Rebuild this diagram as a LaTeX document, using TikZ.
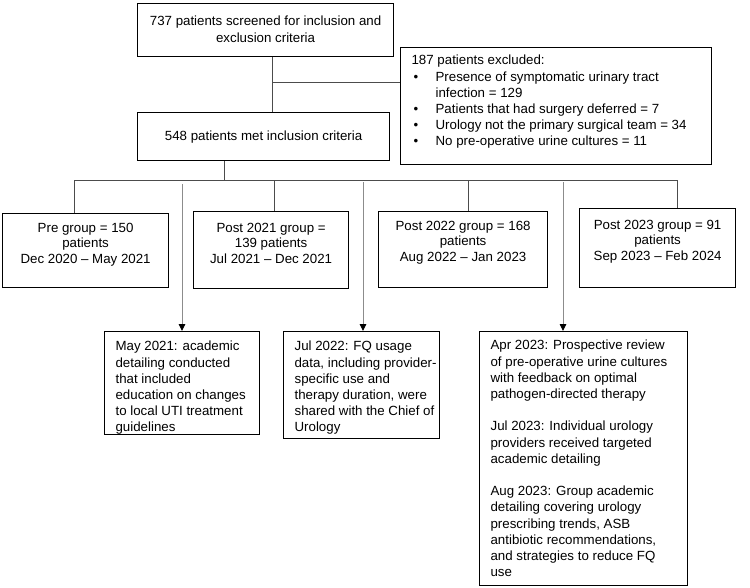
\documentclass[tikz,border=0pt]{standalone}
\usepackage{fontspec}
\setmainfont{Liberation Sans}
\usetikzlibrary{arrows.meta}
% top-aligned box contents: width, height, top padding, text
\newcommand\lboxtxt[4]{\parbox[t][#2][t]{#1}{\raggedright\leftskip=11pt\vspace*{#3}\strut#4}}
\newcommand\cboxtxt[4]{\parbox[t][#2][t]{#1}{\centering\vspace*{#3}\strut#4}}
\newcommand\exbullet{\makebox[24pt][l]{\hspace{2pt}\textbullet}}
\begin{document}
\begin{tikzpicture}[x=1pt,y=-1pt,
  box/.style={draw=black, line width=1.2pt, anchor=north west, inner sep=0pt,
    font=\fontsize{13.3}{16.2}\selectfont},
  gbox/.style={box, font=\fontsize{13.3}{15.6}\selectfont},
  link/.style={draw=black!70, line width=0.9pt},
  note/.style={draw=black!45, line width=0.9pt,
    -{Triangle[length=7pt,width=6.5pt,color=black]}}]
\useasboundingbox (0,0) rectangle (750,587);

% screening and inclusion
\node[box] (top) at (137,3) {\cboxtxt{256pt}{53pt}{11pt}{737 patients screened for inclusion and\\ exclusion criteria}};
\node[box] (excl) at (400,47) {\lboxtxt{311pt}{117pt}{6pt}{187 patients excluded:\\
\exbullet Presence of symptomatic urinary tract\\
\hspace*{24pt}infection = 129\\
\exbullet Patients that had surgery deferred = 7\\
\exbullet Urology not the primary surgical team = 34\\
\exbullet No pre-operative urine cultures = 11}};
\node[box] (inc) at (137,112) {\cboxtxt{252pt}{48pt}{17pt}{548 patients met inclusion criteria}};

% study groups
\node[gbox] (pre) at (2,213) {\cboxtxt{166pt}{74pt}{7.5pt}{Pre group = 150\\ patients\\ Dec 2020 \textendash{} May 2021}};
\node[gbox] (post21) at (193,211) {\cboxtxt{155pt}{77pt}{9.5pt}{Post 2021 group =\\ 139 patients\\ Jul 2021 \textendash{} Dec 2021}};
\node[gbox] (post22) at (378,211) {\cboxtxt{169pt}{76pt}{7.5pt}{Post 2022 group = 168\\ patients\\ Aug 2022 \textendash{} Jan 2023}};
\node[gbox] (post23) at (579,208) {\cboxtxt{156pt}{79pt}{9.5pt}{Post 2023 group = 91\\ patients\\ Sep 2023 \textendash{} Feb 2024}};

% interventions
\node[box] (ev1) at (104,331) {\lboxtxt{155pt}{103pt}{8pt}{May 2021: academic\\ detailing conducted\\ that included\\ education on changes\\ to local UTI treatment\\ guidelines}};
\node[box] (ev2) at (283,331) {\lboxtxt{156pt}{107pt}{8pt}{Jul 2022: FQ usage\\ data, including provider-\\ specific use and\\ therapy duration, were\\ shared with the Chief of\\ Urology}};
\node[box] (ev3) at (479,331) {\lboxtxt{208pt}{254pt}{7pt}{Apr 2023: Prospective review\\ of pre-operative urine cultures\\ with feedback on optimal\\ pathogen-directed therapy\\[16.2pt]
Jul 2023: Individual urology\\ providers received targeted\\ academic detailing\\[16.2pt]
Aug 2023: Group academic\\ detailing covering urology\\ prescribing trends, ASB\\ antibiotic recommendations,\\ and strategies to reduce FQ\\ use}};

% junctions
\coordinate (j1) at (272,82);
\coordinate (j2) at (224,180);
\coordinate (b1) at (74,180);
\coordinate (b2) at (274,180);
\coordinate (b3) at (468,180);
\coordinate (b4) at (677,180);
\coordinate (a1) at (182,184);
\coordinate (a2) at (363,182);
\coordinate (a3) at (563,182);

\draw[link] (j1 |- top.south) -- (j1 |- inc.north);
\draw[link] (j1) -- (j1 -| excl.west);
\draw[link] (j2 |- inc.south) -- (j2);
\draw[link] (b1 |- pre.north) -- (b1) -- (b4) -- (b4 |- post23.north);
\draw[link] (b2) -- (b2 |- post21.north);
\draw[link] (b3) -- (b3 |- post22.north);

\draw[note] (a1) -- (a1 |- ev1.north);
\draw[note] (a2) -- (a2 |- ev2.north);
\draw[note] (a3) -- (a3 |- ev3.north);
\end{tikzpicture}
\end{document}
